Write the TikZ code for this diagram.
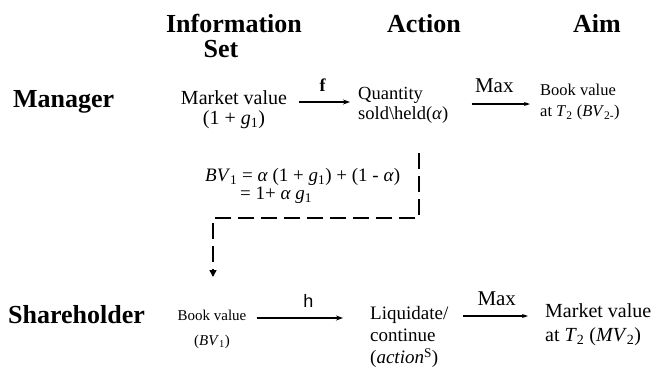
\documentclass[tikz,border=0pt]{standalone}
\usepackage{fontspec}
\setmainfont{Liberation Serif}
\newfontfamily\hsans{Liberation Sans}
\usetikzlibrary{arrows.meta}
\begin{document}
\begin{tikzpicture}[x=1pt,y=-1pt]
\useasboundingbox[fill=white] (0,0) rectangle (653,370);
\tikzset{
  head/.style={font=\fontsize{26}{26}\selectfont\bfseries, inner sep=0pt},
  txt/.style={inner sep=0pt, align=left},
  flow/.style={line width=2.4pt, -{Stealth[length=7pt,width=5pt]}},
  maxarrow/.style={line width=1.6pt, -{Stealth[length=6pt,width=4pt]}},
  lbl/.style={inner sep=0pt},
  dashlink/.style={line width=1.4pt, dash pattern=on 16pt off 7pt, -{Triangle[length=7pt,width=7pt]}}
}
% headers
\node[head, anchor=base] (info) at (234,32) {Information};
\node[head, anchor=base] (set) at (221,57) {Set};
\node[head, anchor=base] (act) at (424,32) {Action};
\node[head, anchor=base] (aim) at (597,32) {Aim};
\node[head, anchor=base west] (mgr) at (13,107) {Manager};
\node[head, anchor=base west] (sh) at (8,323) {Shareholder};
% manager row
\node[txt, align=center, font=\fontsize{20}{20}\selectfont] (mv) at (234,110) {Market value\\(1 + \textit{g}\textsubscript{1})};
\node[txt, anchor=west, font=\fontsize{18.5}{20}\selectfont] (qty) at (358,105) {Quantity\\sold\textbackslash held(\textit{α})};
\node[txt, anchor=west, font=\fontsize{16.5}{21}\selectfont] (bv) at (540,102) {Book value\\at \textit{T}\textsubscript{2} (\textit{BV}\textsubscript{2-})};
\draw[flow, shorten <=12pt, shorten >=8pt] ([yshift=8pt]mv.east) -- node[lbl, above=9pt, font=\fontsize{18}{18}\selectfont\bfseries] (flab) {f} ([yshift=3pt]qty.west);
\draw[maxarrow, shorten <=23pt, shorten >=10pt] ([yshift=1pt]qty.east) -- node[lbl, above=10pt, font=\fontsize{21}{21}\selectfont] (max1) {Max} ([yshift=-2pt]bv.west);
% formula
\node[txt, anchor=west, font=\fontsize{19}{20}\selectfont] (fa) at (205,177) {\textit{BV}\textsubscript{1} = \textit{α} (1 + \textit{g}\textsubscript{1}) + (1 - \textit{α})};
\node[txt, anchor=west, font=\fontsize{19}{20}\selectfont] (fb) at (240,195) {= 1+ \textit{α g}\textsubscript{1}};
\coordinate (d1) at (419,153);
\coordinate (d2) at (419,218);
\coordinate (d3) at (213,218);
\coordinate (d4) at (213,277);
\draw[dashlink] (d1) -- (d2) -- (d3) -- (d4);
% shareholder row
\node[txt, align=center, font=\fontsize{15}{25}\selectfont] (bookS) at (212,329) {Book value\\(\textit{BV}\textsubscript{1})};
\node[txt, anchor=west, font=\fontsize{19}{22}\selectfont] (liq) at (370,337) {Liquidate/\\continue\\(\textit{action}\textsuperscript{S})};
\node[txt, anchor=west, font=\fontsize{20}{24}\selectfont] (mvS) at (545,325) {Market value\\at \textit{T}\textsubscript{2} (\textit{MV}\textsubscript{2})};
\draw[flow, shorten <=10pt, shorten >=27pt] ([yshift=11pt]bookS.east) -- node[lbl, above=9pt, font=\hsans\fontsize{18}{18}\selectfont] (hlab) {h} ([yshift=19pt]liq.west);
\draw[maxarrow, shorten <=15pt, shorten >=17pt] ([yshift=21pt]liq.east) -- node[lbl, above=10pt, font=\fontsize{21}{21}\selectfont] (max2) {Max} ([yshift=9pt]mvS.west);
\end{tikzpicture}
\end{document}
